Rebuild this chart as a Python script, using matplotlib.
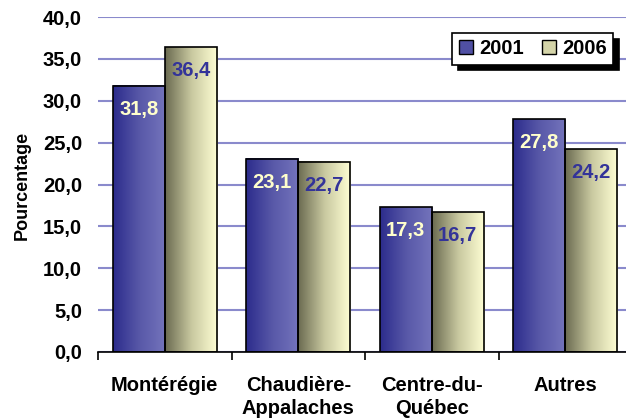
import numpy as np
import matplotlib
matplotlib.use("Agg")
import matplotlib.pyplot as plt
from matplotlib.colors import LinearSegmentedColormap
from matplotlib.patches import Rectangle, Patch

plt.rcParams["font.family"] = ["Liberation Sans", "DejaVu Sans"]
plt.rcParams["font.weight"] = "bold"

# data
regions = ["Montérégie", "Chaudière-\nAppalaches", "Centre-du-\nQuébec", "Autres"]
years = ["2001", "2006"]
pct_2001 = [31.8, 23.1, 17.3, 27.8]
pct_2006 = [36.4, 22.7, 16.7, 24.2]
yticks = [0, 5, 10, 15, 20, 25, 30, 35, 40]

blue_cmap = LinearSegmentedColormap.from_list("b", ["#2c2c8c", "#5858a8", "#7474bc"])
yel_cmap = LinearSegmentedColormap.from_list("y", ["#6a6a50", "#c8c8a0", "#ffffd4"])
grad = np.linspace(0, 1, 256).reshape(1, -1)

fig = plt.figure(figsize=(6.26, 4.2), dpi=100)
ax = fig.add_axes([98 / 626, 68 / 420, 534 / 626, 335 / 420])

bar_w = 0.39
centers = np.arange(len(regions)) + 0.5

def gradient_bar(x0, h, cmap):
    ax.imshow(grad, cmap=cmap, aspect="auto", interpolation="bicubic",
              extent=[x0, x0 + bar_w, 0, h], zorder=2)
    ax.add_patch(Rectangle((x0, 0), bar_w, h, fill=False, edgecolor="black",
                           linewidth=1.2, zorder=3))

for c, v1, v2 in zip(centers, pct_2001, pct_2006):
    gradient_bar(c - bar_w, v1, blue_cmap)
    gradient_bar(c, v2, yel_cmap)
    ax.annotate(f"{v1:.1f}".replace(".", ","), (c - bar_w / 2, v1),
                xytext=(0, -17), textcoords="offset points", ha="center",
                va="center", color="#ffffcc", fontsize=14.5, fontweight="bold",
                zorder=4)
    ax.annotate(f"{v2:.1f}".replace(".", ","), (c + bar_w / 2, v2),
                xytext=(0, -17), textcoords="offset points", ha="center",
                va="center", color="#333399", fontsize=14.5, fontweight="bold",
                zorder=4)

ax.set_xlim(0, len(regions))
ax.set_ylim(0, 40)

for s in ["top", "right", "left"]:
    ax.spines[s].set_visible(False)
ax.spines["bottom"].set_linewidth(1.2)

ax.set_yticks(yticks)
ax.set_yticklabels([f"{t:.1f}".replace(".", ",") for t in yticks])
ax.tick_params(axis="y", length=0, pad=11.5, labelsize=14.5)
ax.yaxis.grid(True, color="#8a8acc", linewidth=1.5, zorder=0)
ax.set_axisbelow(True)

ax.set_xticks(centers)
ax.set_xticklabels(regions, linespacing=1.28)
ax.tick_params(axis="x", which="major", length=0, pad=17, labelsize=14.5)
ax.set_xticks(np.arange(len(regions) + 1), minor=True)
ax.tick_params(axis="x", which="minor", length=6, width=1.2, direction="out")

fig.text(22 / 626, 1 - 185 / 420, "Pourcentage", rotation=90, ha="center",
         va="center", fontsize=13, fontweight="bold")

handles = [Patch(facecolor="#5050a4", edgecolor="black", linewidth=1),
           Patch(facecolor="#d4d4a8", edgecolor="black", linewidth=1)]
leg = ax.legend(handles, years, loc="upper right", ncol=2,
                bbox_to_anchor=(613 / 626, 1 - 33 / 420),
                bbox_transform=fig.transFigure, frameon=True, fancybox=False,
                shadow={"color": "black", "alpha": 1, "ox": 4, "oy": -4},
                prop={"size": 14.5, "weight": "bold"}, handlelength=0.7,
                handleheight=0.7, handletextpad=0.3, columnspacing=0.9,
                borderpad=0.32, borderaxespad=0)
leg.get_frame().set_edgecolor("black")
leg.get_frame().set_linewidth(1.2)

fig.savefig("out.png", dpi=100)
